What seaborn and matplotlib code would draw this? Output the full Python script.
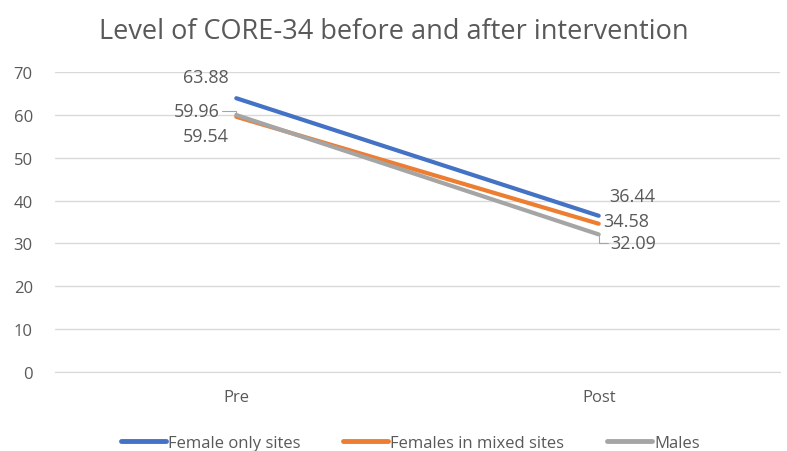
import matplotlib
matplotlib.use("Agg")
import matplotlib.pyplot as plt
import seaborn as sns
import pandas as pd

# ── data ─────────────────────────────────────────────
stages = ["Pre", "Post"]
series_names = ["Female only sites", "Females in mixed sites", "Males"]
female_only = [63.88, 36.44]
female_mixed = [59.54, 34.58]
males = [59.96, 32.09]

colors = ["#4472C4", "#ED7D31", "#A5A5A5"]
text_col = "#595959"

df = pd.DataFrame({
    "stage": stages * 3,
    "series": [s for s in series_names for _ in stages],
    "value": female_only + female_mixed + males,
})
df["x"] = df["stage"].map({s: i for i, s in enumerate(stages)})

sns.set_style("white")
plt.rcParams["font.family"] = ["Open Sans", "DejaVu Sans"]

fig = plt.figure(figsize=(7.87, 4.52), dpi=100)
ax = fig.add_axes([0.070, 0.175, 0.921, 0.6635])

sns.lineplot(data=df, x="x", y="value", hue="series", hue_order=series_names,
             palette=colors, linewidth=3, ax=ax, sort=False)
ax.set_xlim(-0.5, 1.5)
ax.set_ylim(0, 70)
ax.set_yticks(range(0, 80, 10))
ax.set_xticks([0, 1])
ax.set_xticklabels(stages)
ax.set_xlabel("")
ax.set_ylabel("")
ax.grid(axis="y", color="#D9D9D9", linewidth=1)
ax.set_axisbelow(True)
for sp in ["top", "right", "left"]:
    ax.spines[sp].set_visible(False)
ax.spines["bottom"].set_color("#D9D9D9")
ax.tick_params(axis="both", length=0, labelsize=12, colors=text_col)
ax.tick_params(axis="y", pad=16)
ax.tick_params(axis="x", pad=12)

# ── data labels ─────────────────────────────────────
lab = dict(fontsize=13, color=text_col, textcoords="offset points")
lead = dict(arrowstyle="-", color="#A5A5A5", lw=0.8, shrinkA=0, shrinkB=1,
            connectionstyle="angle,angleA=0,angleB=90,rad=0")
ax.annotate(f"{female_only[0]:.2f}", (0, female_only[0]), xytext=(-22, 15), ha="center", va="center", **lab)
ax.annotate(f"{males[0]:.2f}", (0, males[0]), xytext=(-12, 3), ha="right", va="center", **lab)
ax.annotate("", (0, males[0]), xytext=(-10, 3), textcoords="offset points", arrowprops=lead)
ax.annotate(f"{female_mixed[0]:.2f}", (0, female_mixed[0]), xytext=(-22, -14), ha="center", va="center", **lab)
ax.annotate(f"{female_only[1]:.2f}", (1, female_only[1]), xytext=(24, 14), ha="center", va="center", **lab)
ax.annotate(f"{female_mixed[1]:.2f}", (1, female_mixed[1]), xytext=(20, 2), ha="center", va="center", **lab)
ax.annotate(f"{males[1]:.2f}", (1, males[1]), xytext=(8, -6), ha="left", va="center", **lab)
ax.annotate("", (1, males[1]), xytext=(7, -6), textcoords="offset points", arrowprops=lead)

fig.suptitle("Level of CORE-34 before and after intervention", y=0.96,
             fontsize=19.5, color=text_col)

leg = ax.legend(loc="lower center", bbox_to_anchor=(0.49, -0.29), ncol=3,
                frameon=False, fontsize=12, handlelength=2.7, handletextpad=0.1,
                columnspacing=2.6, labelcolor=text_col, borderpad=0)
for h in leg.get_lines():
    h.set_linewidth(3.5)

fig.savefig("out.png", dpi=100)
